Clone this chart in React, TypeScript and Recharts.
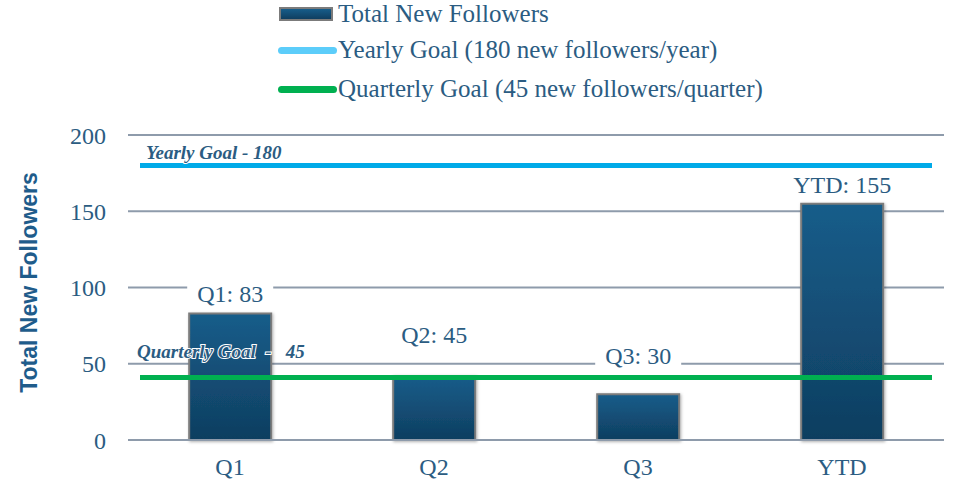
import React from 'react';
import { BarChart, Bar, XAxis, YAxis, CartesianGrid, ReferenceLine, LabelList, Legend } from 'recharts';

const categories = ['Q1', 'Q2', 'Q3', 'YTD'];
const newFollowers = [83, 42, 30, 155];
const barLabels = ['Q1: 83', 'Q2: 45', 'Q3: 30', 'YTD: 155'];
const yTicks = [0, 50, 100, 150, 200];

const yearlyGoal = 180;
const quarterlyGoalLevel = 41;
const yearlyGoalText = 'Yearly Goal - 180';
const quarterlyGoalText = 'Quarterly Goal  -   45';

const legendLabels = [
  'Total New Followers',
  'Yearly Goal (180 new followers/year)',
  'Quarterly Goal (45 new followers/quarter)',
];

const SERIF = '"Liberation Serif", "Times New Roman", serif';
const TEXT = '#2b5c82';
const GRID = '#8e9bab';
const BLUE = '#00aae8';
const BLUE_LEGEND = '#5ccdfa';
const GREEN = '#00b050';

// how far each value label sits above its bar
const labelLift = [11, 33, 30, 11];

const data = categories.map((name, i) => ({ name, followers: newFollowers[i] }));

const renderLegend = () => {
  const rowTop = [4, 40, 79];
  return (
    <div style={{ position: 'relative', width: 955, height: 135 }}>
      {legendLabels.map((label, i) => (
        <div
          key={label}
          style={{
            position: 'absolute',
            left: 276,
            top: rowTop[i],
            height: 20,
            lineHeight: '20px',
            display: 'flex',
            alignItems: 'center',
            fontFamily: SERIF,
            fontSize: 25,
            color: TEXT,
            whiteSpace: 'nowrap',
          }}
        >
          <div style={{ width: 62, display: 'flex', justifyContent: 'center' }}>
            {i === 0 ? (
              <div
                style={{
                  width: 50,
                  height: 10,
                  background: 'linear-gradient(#175d8a, #0f3e60)',
                  border: '2px solid #7b7b7b',
                  marginLeft: -2,
                }}
              />
            ) : (
              <div
                style={{
                  width: 59,
                  height: 7,
                  borderRadius: 4,
                  background: i === 1 ? BLUE_LEGEND : GREEN,
                }}
              />
            )}
          </div>
          <span>{label}</span>
        </div>
      ))}
    </div>
  );
};

const renderBarLabel = (props: any) => {
  const { x, y, width, index } = props;
  const cx = x + width / 2;
  const base = y - labelLift[index];
  return (
    <g>
      <rect x={cx - 43} y={base - 20} width={86} height={25} fill="#fff" />
      <text x={cx} y={base} textAnchor="middle" fontFamily={SERIF} fontSize={24} fill={TEXT}>
        {barLabels[index]}
      </text>
    </g>
  );
};

const goalShape = (color: string, text: string, textX: number, textDy: number) => (p: any) => (
  <g>
    <line x1={p.x1 + 12} x2={p.x2 - 12} y1={p.y1} y2={p.y2} stroke={color} strokeWidth={5} />
    <text
      x={p.x1 + textX}
      y={p.y1 - textDy}
      fontFamily={SERIF}
      fontSize={19}
      fontWeight="bold"
      fontStyle="italic"
      fill={TEXT}
      stroke="#fff"
      strokeWidth={2}
      paintOrder="stroke"
      style={{ whiteSpace: 'pre' }}
    >
      {text}
    </text>
  </g>
);

const renderYLabel = (props: any) => {
  const vb = props.viewBox;
  const cx = vb.x + 29;
  const cy = vb.y + vb.height / 2 - 5;
  return (
    <text
      x={cx}
      y={cy}
      transform={`rotate(-90 ${cx} ${cy})`}
      textAnchor="middle"
      dominantBaseline="central"
      fontFamily='"Liberation Sans", Arial, sans-serif'
      fontWeight="bold"
      fontSize={23}
      fill="#1f5c8b"
    >
      Total New Followers
    </text>
  );
};

export default function App() {
  return (
    <div style={{ position: 'absolute', left: 0, top: 0, width: 955, height: 490, background: '#fff' }}>
      <BarChart
        width={955}
        height={490}
        data={data}
        margin={{ top: 0, right: 11, bottom: 0, left: 0 }}
        barCategoryGap="30%"
      >
        <defs>
          <linearGradient id="barFill" x1="0" y1="0" x2="0" y2="1">
            <stop offset="0%" stopColor="#175d8a" />
            <stop offset="100%" stopColor="#0f3e60" />
          </linearGradient>
          <filter id="barShadow" x="-20%" y="-20%" width="140%" height="140%">
            <feDropShadow dx="1" dy="1" stdDeviation="1.5" floodColor="#000" floodOpacity="0.3" />
          </filter>
        </defs>
        <Legend verticalAlign="top" content={renderLegend} wrapperStyle={{ left: 0, top: 0, width: 955, height: 135 }} />
        <CartesianGrid vertical={false} stroke={GRID} strokeWidth={2} />
        <XAxis
          dataKey="name"
          height={50}
          axisLine={{ stroke: GRID, strokeWidth: 2 }}
          tickLine={false}
          tickMargin={12}
          tick={{ fill: TEXT, fontSize: 24, fontFamily: SERIF }}
        />
        <YAxis
          width={128}
          domain={[0, 200]}
          ticks={yTicks}
          axisLine={false}
          tickLine={false}
          tickMargin={16}
          tick={{ fill: TEXT, fontSize: 24, fontFamily: SERIF }}
          label={renderYLabel}
        />
        <Bar
          dataKey="followers"
          fill="url(#barFill)"
          stroke="#7b7b7b"
          strokeWidth={2}
          filter="url(#barShadow)"
          isAnimationActive={false}
        >
          <LabelList dataKey="followers" content={renderBarLabel} />
        </Bar>
        <ReferenceLine y={yearlyGoal} shape={goalShape(BLUE, yearlyGoalText, 18, 6.5)} />
        <ReferenceLine y={quarterlyGoalLevel} shape={goalShape(GREEN, quarterlyGoalText, 9, 19)} />
      </BarChart>
    </div>
  );
}
